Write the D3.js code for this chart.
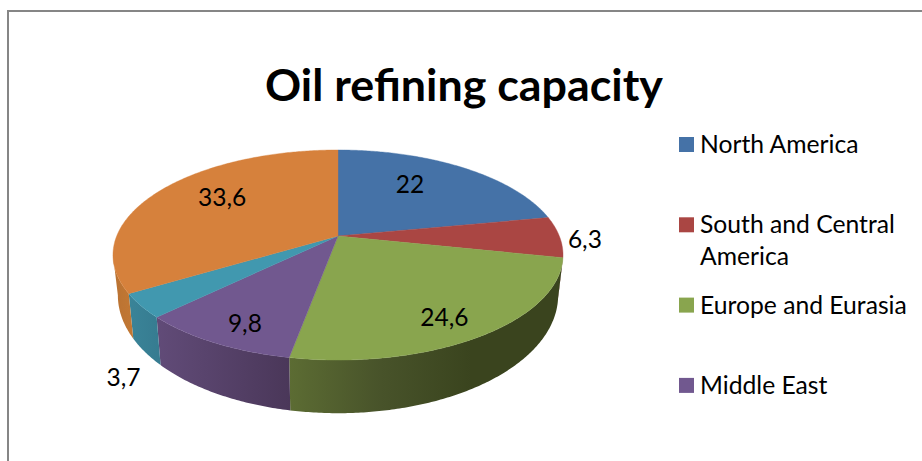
<!DOCTYPE html>
<html>
<head>
<meta charset="utf-8">
<script src="https://cdn.jsdelivr.net/npm/d3@7/dist/d3.min.js"></script>
<style>
html,body{margin:0;padding:0;background:#fff;overflow:hidden}
svg{display:block}
text{font-family:Lato,"Open Sans",sans-serif;fill:#000}
</style>
</head>
<body>
<svg id="chart" width="922" height="461"></svg>
<script>
const titleText = "Oil refining capacity";
const values = [22, 6.3, 24.6, 9.8, 3.7, 33.6];
const valueLabels = ["22", "6,3", "24,6", "9,8", "3,7", "33,6"];
const legendLines = [["North America"], ["South and Central", "America"], ["Europe and Eurasia"], ["Middle East"]];
const topColors = ["#4572A7", "#AA4643", "#89A54E", "#71588F", "#4198AF", "#D6813C"];

const svg = d3.select("#chart");

// perspective disc: top and bottom faces of the pie
const persp = 0.181;
const topFace = {cx: 338, cy: 236, a: 221.3, b: 101.6};
const botFace = {cx: 338, cy: 274, a: 216.5, b: 114};
function project(face, angle, r = 1) {
  const u = r * Math.sin(angle), v = r * Math.cos(angle), w = 1 + persp * v;
  return [face.cx + face.a * u / w, face.cy - face.b * v / w];
}
function arcPoints(face, a0, a1) {
  const n = Math.max(2, Math.ceil(Math.abs(a1 - a0) / 0.01));
  return d3.range(n + 1).map(i => project(face, a0 + (a1 - a0) * i / n));
}

const arcs = d3.pie().sort(null).value(d => d)(values);
const line = d3.line();
const defs = svg.append("defs");

// frame
svg.append("path").attr("d", "M8,461V11H922").attr("fill", "none").attr("stroke", "#868686").attr("stroke-width", 2);

// side wall shading: [gradient stops] per slice, left to right
const wallStops = [
  ["#3f5f86", "#3f5f86"],
  ["#7a3230", "#7a3230"],
  ["#5c6c33", "#48532a", "#3a441e", "#3a441e"],
  ["#614b78", "#4a3759"],
  ["#3a8498", "#367b90"],
  ["#b97232", "#c27834"]
];
wallStops.forEach((stops, i) => {
  const g = defs.append("linearGradient").attr("id", "wall" + i);
  stops.forEach((c, j) => g.append("stop").attr("offset", j / (stops.length - 1)).attr("stop-color", c));
});

// visible wall: the part of the rim nearer than the silhouette points
const horizon = Math.acos(-persp);
const visStart = horizon, visEnd = 2 * Math.PI - horizon;
const walls = svg.append("g");
arcs.forEach((d, i) => {
  const a0 = Math.max(d.startAngle, visStart), a1 = Math.min(d.endAngle, visEnd);
  if (a1 <= a0) return;
  const pts = arcPoints(topFace, a0, a1).concat(arcPoints(botFace, a1, a0));
  walls.append("path").attr("d", line(pts) + "Z").attr("fill", `url(#wall${i})`);
});

// top faces
const faces = svg.append("g");
arcs.forEach((d, i) => {
  const pts = [project(topFace, 0, 0)].concat(arcPoints(topFace, d.startAngle, d.endAngle));
  faces.append("path").attr("d", line(pts) + "Z").attr("fill", topColors[i]).attr("stroke", topColors[i]).attr("stroke-width", 0.4);
});

// value labels
const labelRadius = [0.7, 1.1, 0.7, 0.7, 1.1, 0.7];
const labelNudge = [[-18, 7], [3, 11], [10, 24], [-11, 25], [5, 72], [11, 3]];
arcs.forEach((d, i) => {
  const p = project(topFace, (d.startAngle + d.endAngle) / 2, labelRadius[i]);
  svg.append("text").attr("x", p[0] + labelNudge[i][0]).attr("y", p[1] + labelNudge[i][1])
    .attr("text-anchor", "middle").attr("font-size", 24.5).text(valueLabels[i]);
});

// title
svg.append("text").attr("x", 464).attr("y", 101).attr("text-anchor", "middle")
  .attr("font-size", 44.8).attr("font-weight", 700).text(titleText);

// legend
const legendY = d3.scaleLinear().domain([0, 1]).range([153, 233.3]);
legendLines.forEach((lines, i) => {
  const y = legendY(i);
  svg.append("rect").attr("x", 679).attr("y", y - 16).attr("width", 15).attr("height", 15).attr("fill", topColors[i]);
  lines.forEach((t, j) => svg.append("text").attr("x", 700).attr("y", y + j * 32).attr("font-size", 24.7).text(t));
});
</script>
</body>
</html>
